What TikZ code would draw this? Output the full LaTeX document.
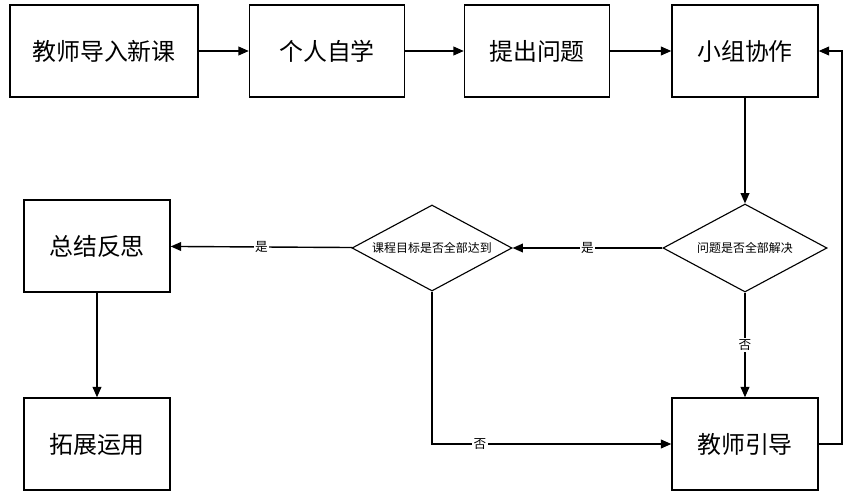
\documentclass[tikz,border=0pt]{standalone}
\usepackage{fontspec}
\setmainfont{Noto Sans CJK SC}
\usetikzlibrary{shapes.geometric,arrows.meta}

\tikzset{
  box/.style={draw, line width=1pt, minimum height=2.3cm, inner sep=2pt,
    font=\fontsize{17}{20}\selectfont},
  decide/.style={draw, diamond, line width=0.8pt, aspect=1.86, inner sep=0pt,
    minimum width=4.1cm, minimum height=2.2cm, font=\fontsize{8.5}{10}\selectfont},
  flow/.style={line width=1pt, -{Triangle[length=2.6mm,width=2.2mm]}},
  tag/.style={fill=white, inner sep=1pt, font=\fontsize{9}{10}\selectfont}
}

\begin{document}
\begin{tikzpicture}[x=0.025cm, y=-0.025cm]
  \useasboundingbox (0,0) rectangle (849,494);
  % top row
  \node[box, minimum width=4.7cm] (intro) at (104,51) {教师导入新课};
  \node[box, minimum width=3.875cm] (self) at (327,51) {个人自学};
  \node[box, minimum width=3.625cm] (ask) at (537,51) {提出问题};
  \node[box, minimum width=3.65cm] (group) at (745,51) {小组协作};
  % decisions
  \node[decide] (solved) at (745,248) {问题是否全部解决};
  \node[decide, minimum width=4.0cm, minimum height=2.15cm] (goal) at (432,248) {课程目标是否全部达到};
  % left column and guidance
  \node[box, minimum width=3.65cm] (sum) at (97,246) {总结反思};
  \node[box, minimum width=3.65cm] (use) at (97,444) {拓展运用};
  \node[box, minimum width=3.65cm] (guide) at (745,444) {教师引导};
  \coordinate (loop) at (842,51);
  % connectors
  \draw[flow] (intro) -- (self);
  \draw[flow] (self) -- (ask);
  \draw[flow] (ask) -- (group);
  \draw[flow] (group) -- (solved);
  \draw[flow] (solved) -- node[tag] {是} (goal);
  \draw[flow] (goal) -- node[tag] {是} (sum);
  \draw[flow] (sum) -- (use);
  \draw[flow] (solved) -- node[tag] {否} (guide);
  \draw[flow] (goal.south) |- node[tag, pos=0.6] {否} (guide.west);
  \draw[flow] (guide.east) -| (loop) -- (group.east);
\end{tikzpicture}
\end{document}
